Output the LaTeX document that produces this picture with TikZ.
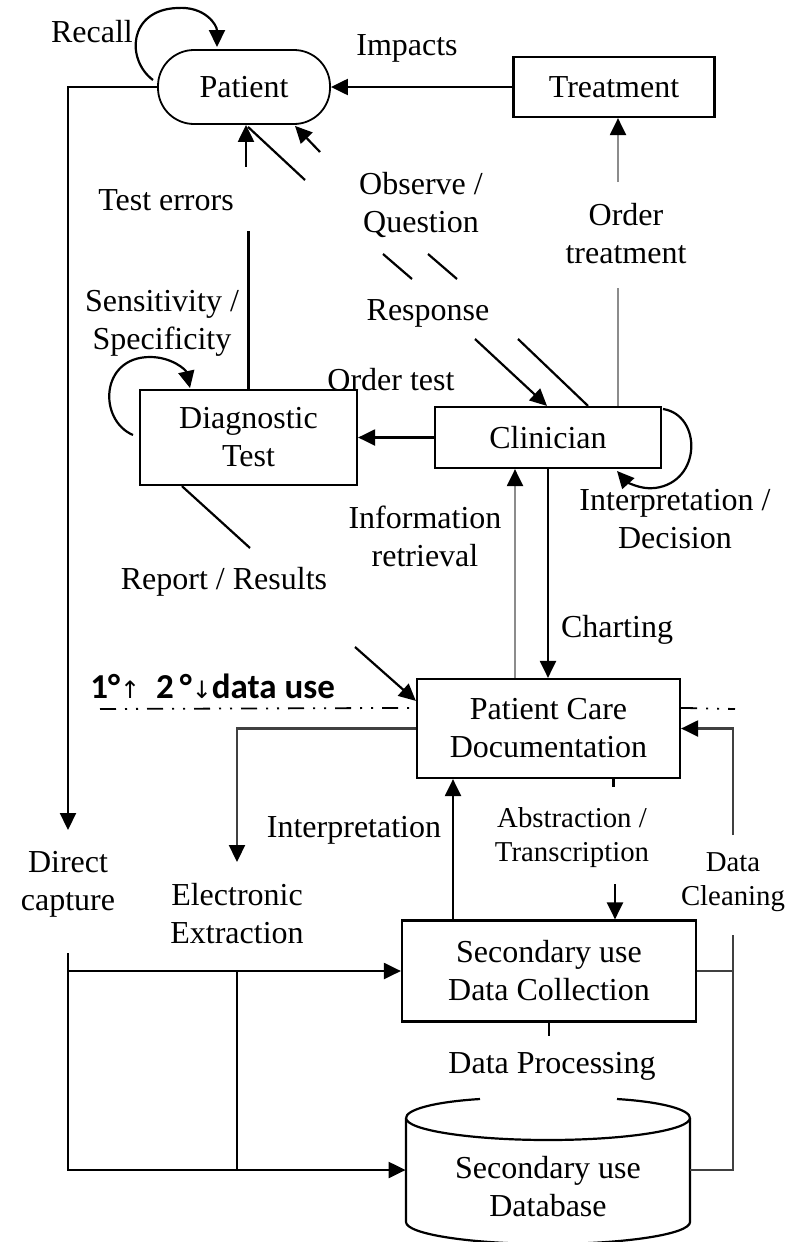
\documentclass[tikz,border=0pt]{standalone}
\usepackage{fontspec}
\setmainfont{Liberation Serif}
\newfontfamily\labelsans{Carlito}
\newfontfamily\symfont{DejaVu Sans}
\usetikzlibrary{arrows.meta,calc}

\begin{document}
\begin{tikzpicture}[x=0.5pt,y=-0.5pt,
  every node/.style={font=\fontsize{16}{19}\selectfont, inner sep=0pt},
  txt/.style={align=center},
  smalltxt/.style={font=\fontsize{14.4}{17}\selectfont, align=center},
  box/.style={draw, line width=1.1pt, align=center},
  conn/.style={line width=1.1pt},
  tip/.style={-{Triangle[length=8.5pt,width=8pt,color=black]}},
  arr/.style={conn, tip},
  soft/.style={conn, draw=black!45},
  softarr/.style={soft, tip},
  dark/.style={conn, draw=black!75},
  darkarr/.style={dark, tip},
  phase/.style={line width=0.9pt, dash pattern=on 8pt off 4.5pt on 1pt off 4.5pt on 1pt off 4.5pt}
]
\fill[white] (0,0) rectangle (796,1242);
\useasboundingbox (0,0) rectangle (796,1242);

% ---- main blocks ----
\node[box, line width=0.9pt, rounded corners=18pt, minimum width=86pt, minimum height=37pt] (patient) at (244,87) {Patient};
\node[box, minimum width=100.5pt, minimum height=30pt] (treat) at (614,87) {Treatment};
\node[box, minimum width=108.5pt, minimum height=47.5pt] (diag) at (248.5,437.5) {Diagnostic\\Test};
\node[box, minimum width=113pt, minimum height=30.5pt] (clin) at (548,437.5) {Clinician};
\node[box, minimum width=131.5pt, minimum height=49.5pt] (pcd) at (548.5,728.5) {Patient Care\\Documentation};
\node[box, minimum width=147pt, minimum height=50.5pt] (sdc) at (549,971) {Secondary use\\Data Collection};
\node[minimum width=142pt, align=center] (db) at (548,1187) {Secondary use\\Database};

% database cylinder: body with bottom rim, front rim of the lid, back rim broken under the label
\draw[conn] (406,1118) -- (406,1222)
   .. controls (406,1234) and (470,1244) .. (548,1244)
   .. controls (626,1244) and (690,1234) .. (690,1222) -- (690,1118);
\draw[conn] (406,1118) .. controls (406,1130) and (470,1140) .. (548,1140)
   .. controls (626,1140) and (690,1130) .. (690,1118);
\draw[conn] (406,1118) .. controls (406,1110) and (432,1102) .. (480,1099);
\draw[conn] (617,1099) .. controls (664,1102) and (690,1110) .. (690,1118);

% ---- labels ----
\node[txt] (lrecall) at (92,32) {Recall};
\node[txt] (limpacts) at (407,48) {Impacts};
\node[txt] (lterr) at (166,200) {Test errors};
\node[txt] (lobs) at (421,205) {Observe /\\Question};
\node[txt] (lresp) at (428,313) {Response};
\node[txt] (lordtr) at (626,234) {Order\\treatment};
\node[txt] (lsens) at (162,323) {Sensitivity /\\Specificity};
\node[txt] (lordte) at (391,380) {Order test};
\node[txt] (linter) at (675,519) {Interpretation /\\Decision};
\node[txt] (linfo) at (425,536) {Information\\retrieval};
\node[txt] (lrep) at (224,582) {Report / Results};
\node[txt] (lchart) at (617,630) {Charting};
\node[anchor=west, font=\labelsans\bfseries\fontsize{17.5}{20}\selectfont] (lphase) at (90,686)
  {1°{\symfont\mdseries\fontsize{12}{13}\selectfont↑}\hspace{8pt}2\,°{\symfont\mdseries\fontsize{12}{13}\selectfont↓}data use};
\node[txt] (ldirect) at (68,884) {Direct\\capture};
\node[txt] (lelec) at (237,914) {Electronic\\Extraction};
\node[txt] (linterp) at (354,830) {Interpretation};
\node[smalltxt] (labs) at (572,838) {Abstraction /\\Transcription};
\node[smalltxt] (lclean) at (733,882) {Data\\Cleaning};
\node[txt] (lproc) at (552,1066) {Data Processing};

% ---- free ends of broken connectors ----
\coordinate (o1) at (320,152);
\coordinate (o2) at (428,254);
\coordinate (o3) at (457,279);
\coordinate (o4) at (518,339);
\coordinate (r1) at (305,180);
\coordinate (r2) at (383,254);
\coordinate (r3) at (412,279);
\coordinate (r4) at (475,339);
\coordinate (rp1) at (250,548);
\coordinate (rp2) at (355,647);
\coordinate (dc) at (68,830);
\coordinate (dcb) at (68,953);
\coordinate (dcj) at (68,971);
\coordinate (eex) at (237,971);
\coordinate (ee) at (237,862);
\coordinate (dcl1) at (733,835);
\coordinate (dcl2) at (733,935);
\coordinate (dbw) at ($(db.west)+(0,-17)$);
\coordinate (dbe) at ($(db.east)+(0,-17)$);

% ---- connectors ----
\draw[arr] (treat.west) -- (patient.east);
% recall loop
\draw[arr] (153,80) .. controls (126,60) and (128,10) .. (177,8) .. controls (205,6) and (217,25) .. (217,47);
% test errors
\draw[conn] (diag.north) -- ++(0,-158);
\draw[arr] ($(patient.south)+(2,42)$) -- ($(patient.south)+(2,0)$);
% observe / question
\draw[arr] (o1) -- ($(patient.south)+(51,1)$);
\draw[conn] (o2) -- (o3);
\draw[conn] (o4) -- ($(clin.north)+(40,0)$);
% response
\draw[conn] ($(patient.south)+(4,2)$) -- (r1);
\draw[conn] (r2) -- (r3);
\draw[arr] (r4) -- ($(clin.north)+(-1,0)$);
% order treatment
\draw[soft] ($(clin.north)+(70,0)$) -- ++(0,-118);
\draw[softarr] ($(treat.south)+(4,64)$) -- ($(treat.south)+(4,0)$);
% sensitivity / specificity loop
\draw[arr] (133,435) .. controls (98,420) and (100,357) .. (150,357) .. controls (172,357) and (186,370) .. (190,388);
% order test
\draw[arr] (clin.west) -- (diag.east);
% interpretation / decision loop
\draw[arr] (663,409) .. controls (702,415) and (702,482) .. (655,488) .. controls (640,490) and (626,481) .. (617,471);
% information retrieval and charting
\draw[softarr] ($(pcd.north)+(-33.5,0)$) -- ($(clin.south)+(-33,0)$);
\draw[arr] (clin.south) -- (clin.south |- pcd.north);
% report / results
\draw[conn] ($(diag.south west)+(43,0)$) -- (rp1);
\draw[arr] (rp2) -- ($(pcd.north west)+(0,23)$);
% primary / secondary boundary
\draw[phase] (100,709) -- ($(pcd.north west)+(0,30)$);
\draw[phase] ($(pcd.north east)+(0,30)$) -- (735,709);
% direct capture
\draw[arr] (patient.west) -| (dc);
\draw[arr] (dcb) |- (dbw);
\draw[arr] (dcj) -- (dcj -| sdc.west);
\draw[conn] (eex) -- (eex |- dbw);
% electronic extraction
\draw[darkarr] (pcd.west) -| (ee);
% interpretation
\draw[arr] ($(sdc.north)+(-96,0)$) -- ($(pcd.south)+(-95.5,0)$);
% abstraction / transcription
\draw[conn] ($(pcd.south)+(65,0)$) -- ++(0,8);
\draw[arr] ($(sdc.north)+(66,-35)$) -- ($(sdc.north)+(66,0)$);
% data cleaning
\draw[dark] (dbe) -| (dcl2);
\draw[dark] (sdc.east) -- (sdc.east -| dcl2);
\draw[darkarr] (dcl1) |- (pcd.east);
% data processing
\draw[conn] (sdc.south) -- ++(0,13);
\end{tikzpicture}
\end{document}
